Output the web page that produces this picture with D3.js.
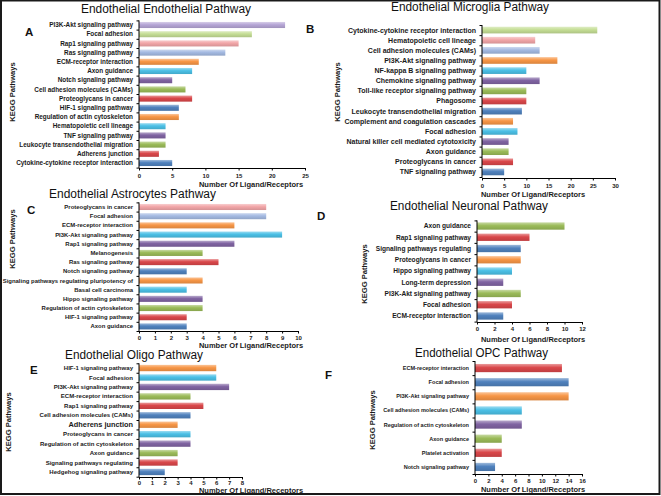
<!DOCTYPE html>
<html>
<head>
<meta charset="utf-8">
<script src="https://cdn.jsdelivr.net/npm/d3@7"></script>
<style>
  body { margin: 0; background: #fff; }
  svg text { font-family: "Liberation Sans", Arial, sans-serif; }
</style>
</head>
<body>
<div id="chart-area"></div>
<script>
// panel data, categories listed top to bottom
var catsA = ["PI3K-Akt signaling pathway", "Focal adhesion", "Rap1 signaling pathway", "Ras signaling pathway",
  "ECM-receptor interaction", "Axon guidance", "Notch signaling pathway", "Cell adhesion molecules (CAMs)",
  "Proteoglycans in cancer", "HIF-1 signaling pathway", "Regulation of actin cytoskeleton",
  "Hematopoietic cell lineage", "TNF signaling pathway", "Leukocyte transendothelial migration",
  "Adherens junction", "Cytokine-cytokine receptor interaction"];
var valsA = [22, 17, 15, 13, 9, 8, 5, 7, 8, 6, 6, 4, 4, 4, 3, 5];
var ticksA = [0, 5, 10, 15, 20, 25];

var catsB = ["Cytokine-cytokine receptor interaction", "Hematopoietic cell lineage", "Cell adhesion molecules (CAMs)",
  "PI3K-Akt signaling pathway", "NF-kappa B signaling pathway", "Chemokine signaling pathway",
  "Toll-like receptor signaling pathway", "Phagosome", "Leukocyte transendothelial migration",
  "Complement and coagulation cascades", "Focal adhesion", "Natural killer cell mediated cytotoxicity",
  "Axon guidance", "Proteoglycans in cancer", "TNF signaling pathway"];
var valsB = [26, 12, 13, 17, 10, 13, 10, 10, 9, 7, 8, 6, 6, 7, 5];
var ticksB = [0, 5, 10, 15, 20, 25, 30];

var catsC = ["Proteoglycans in cancer", "Focal adhesion", "ECM-receptor interaction", "PI3K-Akt signaling pathway",
  "Rap1 signaling pathway", "Melanogenesis", "Ras signaling pathway", "Notch signaling pathway",
  "Signaling pathways regulating pluripotency of", "Basal cell carcinoma", "Hippo signaling pathway",
  "Regulation of actin cytoskeleton", "HIF-1 signaling pathway", "Axon guidance"];
var valsC = [8, 8, 6, 9, 6, 4, 5, 3, 4, 3, 4, 4, 3, 3];
var ticksC = [0, 1, 2, 3, 4, 5, 6, 7, 8, 9, 10];

var catsD = ["Axon guidance", "Rap1 signaling pathway", "Signaling pathways regulating", "Proteoglycans in cancer",
  "Hippo signaling pathway", "Long-term depression", "PI3K-Akt signaling pathway", "Focal adhesion",
  "ECM-receptor interaction"];
var valsD = [10, 6, 5, 5, 4, 3, 5, 4, 3];
var ticksD = [0, 2, 4, 6, 8, 10, 12];

var catsE = ["HIF-1 signaling pathway", "Focal adhesion", "PI3K-Akt signaling pathway", "ECM-receptor interaction",
  "Rap1 signaling pathway", "Cell adhesion molecules (CAMs)", "Adherens junction", "Proteoglycans in cancer",
  "Regulation of actin cytoskeleton", "Axon guidance", "Signaling pathways regulating", "Hedgehog signaling pathway"];
var valsE = [6, 6, 7, 4, 5, 4, 3, 4, 4, 3, 3, 2];
var ticksE = [0, 1, 2, 3, 4, 5, 6, 7, 8];

var catsF = ["ECM-receptor interaction", "Focal adhesion", "PI3K-Akt signaling pathway",
  "Cell adhesion molecules (CAMs)", "Regulation of actin cytoskeleton", "Axon guidance",
  "Platelet activation", "Notch signaling pathway"];
var valsF = [13, 14, 14, 7, 7, 4, 4, 3];
var ticksF = [0, 2, 4, 6, 8, 10, 12, 14, 16];

var titles = ["Endothelial Endothelial Pathway", "Endothelial Microglia Pathway", "Endothelial Astrocytes Pathway",
  "Endothelial Neuronal Pathway", "Endothelial Oligo Pathway", "Endothelial OPC Pathway"];
var letters = ["A", "B", "C", "D", "E", "F"];

// excel 2007 style colours, counted from the bottom bar
var base = ["#4f81bd", "#d9474a", "#9bbb59", "#8064a2", "#4bc0e6", "#f79646"];
var light = ["#a4bae2", "#f2a6a8", "#c5de95", "#b6a6d6"];

var W = 661, H = 496;

var svg = d3.select("#chart-area").append("svg")
  .attr("width", W)
  .attr("height", H);

var defs = svg.append("defs");
var allColors = base.concat(light);
allColors.forEach((c, i) => {
  var g = defs.append("linearGradient")
    .attr("id", "grad" + i)
    .attr("x1", 0).attr("y1", 0).attr("x2", 0).attr("y2", 1);
  g.append("stop").attr("offset", "0%").attr("stop-color", d3.interpolateRgb(c, "#fff")(0.45));
  g.append("stop").attr("offset", "45%").attr("stop-color", c);
  g.append("stop").attr("offset", "100%").attr("stop-color", d3.interpolateRgb(c, "#000")(0.12));
});

function colorIndex(iFromBottom) {
  return iFromBottom < 12 ? iFromBottom % 6 : 6 + (iFromBottom - 12);
}

var panels = [
  { cats: catsA, vals: valsA, ticks: ticksA, x0: 139, x1: 305, band: [20.4, 167.6], axisY: 168,
    fs: 6.4, pad: 0.34, tPad: 3, tx: [81, 251], ty: 13, lx: 25, ly: 36, kx: 12.5, ky: 92, xlx: 251, xly: 184.5 },
  { cats: catsB, vals: valsB, ticks: ticksB, x0: 482, x1: 615, band: [25, 177], axisY: 178,
    fs: 7, pad: 0.34, tPad: 3.5, tx: [391, 549], ty: 11, lx: 306, ly: 33, kx: 337, ky: 92, xlx: 533, xly: 194 },
  { cats: catsC, vals: valsC, ticks: ticksC, x0: 139, x1: 298, band: [202.4, 331], axisY: 331,
    fs: 5.95, pad: 0.34, tPad: 2.5, tx: [49, 216], ty: 198, lx: 27, ly: 214, kx: 12.5, ky: 239, xlx: 251, xly: 345.5 },
  { cats: catsD, vals: valsD, ticks: ticksD, x0: 477, x1: 582, band: [220.4, 321.6], axisY: 322,
    fs: 6.6, pad: 0.35, tPad: 2.5, tx: [390, 548], ty: 210, lx: 317, ly: 220, kx: 364.5, ky: 274, xlx: 533, xly: 339.5 },
  { cats: catsE, vals: valsE, ticks: ticksE, x0: 139, x1: 242, band: [363.3, 476.7], axisY: 477,
    fs: 6.05, pad: 0.33, tPad: 1, tx: [65, 203], ty: 359, lx: 30, ly: 374, kx: 8, ky: 422, xlx: 251, xly: 490 },
  { cats: catsF, vals: valsF, ticks: ticksF, x0: 475, x1: 582, band: [361, 474], axisY: 474,
    fs: 5.55, pad: 0.42, tPad: 2, tx: [415, 548], ty: 357, lx: 325, ly: 379, kx: 372.5, ky: 420, xlx: 533, xly: 489.5 }
];

panels.forEach((p, pi) => {
  var g = svg.append("g");
  var n = p.cats.length;

  var x = d3.scaleLinear()
    .domain([0, d3.max(p.ticks)])
    .range([p.x0, p.x1]);

  var y = d3.scaleBand()
    .domain(p.cats)
    .range(p.band)
    .paddingInner(p.pad)
    .paddingOuter(p.pad / 2);

  // boundaries between categories, for the left ticks
  var yEdge = d3.scaleLinear().domain([0, n]).range(p.band);

  // bars
  g.selectAll("rect")
    .data(p.cats.map((c, i) => ({ cat: c, val: p.vals[i], idx: n - 1 - i })))
    .enter()
    .append("rect")
    .attr("x", x(0))
    .attr("y", d => y(d.cat))
    .attr("width", d => x(d.val) - x(0))
    .attr("height", y.bandwidth())
    .attr("fill", d => "url(#grad" + colorIndex(d.idx) + ")");

  // y axis
  var yAxis = g.append("g")
    .attr("transform", `translate(${p.x0}, 0)`)
    .call(d3.axisLeft(yEdge).tickValues(d3.range(n + 1)).tickSize(2.5).tickFormat(""));
  yAxis.select(".domain").attr("d", `M0,${p.band[0]}V${p.axisY}`).attr("stroke", "#000");

  // category labels
  g.selectAll(".cat")
    .data(p.cats)
    .enter()
    .append("text")
    .attr("class", "cat")
    .attr("x", p.x0 - 6)
    .attr("y", d => y(d) + y.bandwidth() / 2)
    .attr("dy", "0.35em")
    .attr("text-anchor", "end")
    .attr("font-size", d => (pi === 4 && d === "Adherens junction") ? p.fs + 1.3 : p.fs)
    .attr("font-weight", "bold")
    .attr("fill", "#1a1a1a")
    .text(d => d);

  // x axis
  var xAxis = g.append("g")
    .attr("transform", `translate(0, ${p.axisY})`)
    .call(d3.axisBottom(x).tickValues(p.ticks).tickSize(2.5).tickPadding(p.tPad).tickSizeOuter(0));
  xAxis.select(".domain").attr("stroke", "#000");
  xAxis.selectAll("text")
    .attr("font-size", 6)
    .attr("font-weight", "bold")
    .attr("fill", "#1a1a1a");

  // axis title
  g.append("text")
    .attr("x", p.xlx)
    .attr("y", p.xly)
    .attr("dy", "0.35em")
    .attr("text-anchor", "middle")
    .attr("font-size", 7.5)
    .attr("font-weight", "bold")
    .attr("fill", "#1a1a1a")
    .text("Number Of Ligand/Receptors");

  g.append("text")
    .attr("transform", `translate(${p.kx}, ${p.ky}) rotate(-90)`)
    .attr("dy", "0.35em")
    .attr("text-anchor", "middle")
    .attr("font-size", 7.6)
    .attr("font-weight", "bold")
    .attr("fill", "#1a1a1a")
    .text("KEGG Pathways");

  // panel title
  g.append("text")
    .attr("x", p.tx[0])
    .attr("y", p.ty)
    .attr("font-size", 12)
    .attr("textLength", p.tx[1] - p.tx[0])
    .attr("lengthAdjust", "spacingAndGlyphs")
    .attr("fill", "#111")
    .text(titles[pi]);

  // panel letter
  g.append("text")
    .attr("x", p.lx)
    .attr("y", p.ly)
    .attr("font-size", 11.5)
    .attr("font-weight", "bold")
    .attr("fill", "#111")
    .text(letters[pi]);
});

// outer frame
svg.append("rect")
  .attr("x", 1)
  .attr("y", 0.5)
  .attr("width", W - 2.5)
  .attr("height", H - 2.5)
  .attr("fill", "none")
  .attr("stroke", "#1a1a1a")
  .attr("stroke-width", 2);
</script>
</body>
</html>
